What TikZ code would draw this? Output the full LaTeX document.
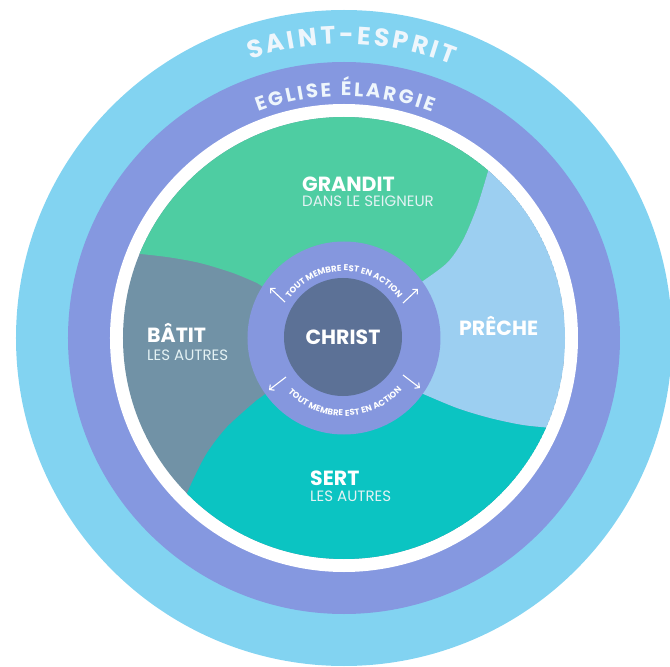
\documentclass[tikz,border=0pt]{standalone}
\usepackage{fontspec}
\setmainfont{Poppins}
\usetikzlibrary{decorations.text,arrows.meta}
\definecolor{skyc}{HTML}{82D3F1}
\definecolor{bandc}{HTML}{8598E0}
\definecolor{greenc}{HTML}{4ECDA2}
\definecolor{lbluec}{HTML}{9CCFF1}
\definecolor{tealc}{HTML}{0BC4C2}
\definecolor{grayc}{HTML}{7192A6}
\definecolor{ringc}{HTML}{8597DE}
\definecolor{christc}{HTML}{5C7196}
\definecolor{arctext}{HTML}{EEF6FC}
\definecolor{subc}{HTML}{E4F2F4}
\tikzset{
  mainlbl/.style={font=\fontsize{20.5}{20.5}\selectfont\bfseries, text=white, anchor=base west, inner sep=0pt},
  sublbl/.style={font=\fontsize{15}{15}\selectfont, text=subc, anchor=base west, inner sep=0pt},
  actarrow/.style={draw=white, line width=1.1pt, -{Straight Barb[length=3.5pt,width=7pt]}},
}
\begin{document}
\begin{tikzpicture}[x=1pt,y=1pt]
\useasboundingbox (-344,-329) rectangle (326,338);
% rings
\fill[skyc] (0,0) circle[radius=328];
\fill[bandc] (0,0) circle[radius=276];
\fill[white] (0,0) circle[radius=234];
% segments
\begin{scope}
\clip (0,0) circle[radius=221];
\fill[grayc] (0,0) circle[radius=221];
\fill[tealc] (0,0) -- plot[smooth] coordinates {(-87,-62) (-117,-89) (-137,-115) (-151,-142) (-161,-165)}
  -- (-190,-210) -- (0,-300) -- (250,-105)
  -- plot[smooth] coordinates {(209,-90) (179,-87) (146,-80) (113,-70) (77,-55)} -- cycle;
\fill[greenc] (0,0) -- plot[smooth] coordinates {(-87,55) (-111,65) (-144,75) (-177,81) (-213,85)}
  -- (-255,92) -- (-150,260) -- (0,300) -- (160,212)
  -- plot[smooth] coordinates {(145,170) (133,131) (119,98) (103,75) (76,55)} -- cycle;
\fill[lbluec] (0,0) -- plot[smooth] coordinates {(76,55) (103,75) (119,98) (133,131) (145,170)}
  -- (160,212) -- (300,0) -- (250,-105)
  -- plot[smooth] coordinates {(209,-90) (179,-87) (146,-80) (113,-70) (77,-55)} -- cycle;
\end{scope}
% center
\node[circle, fill=ringc, inner sep=0pt, minimum size=193pt] (ring) at (0,0) {};
\node[circle, fill=christc, inner sep=0pt, minimum size=118pt, text=white,
      font=\fontsize{20.5}{20.5}\selectfont\bfseries] (christ) at (-1,1) {CHRIST};
% ring texts
\path[decorate, decoration={text along path, text align={fit to path},
  text={|\fontsize{8.5}{8.5}\selectfont\bfseries\color{white}|TOUT MEMBRE EST EN ACTION}}]
  (144:67) arc[start angle=144, end angle=36, radius=67];
\path[decorate, decoration={text along path, text align={fit to path},
  text={|\fontsize{8.5}{8.5}\selectfont\bfseries\color{white}|TOUT MEMBRE EST EN ACTION}}]
  (-136:78) arc[start angle=-136, end angle=-42, radius=78];
% arrows
\coordinate (ulT) at (-59,36); \coordinate (ulH) at (-74,50);
\coordinate (urT) at (59,35);  \coordinate (urH) at (74,49);
\coordinate (llT) at (-58,-39); \coordinate (llH) at (-75,-52);
\coordinate (lrT) at (59,-37); \coordinate (lrH) at (76,-50);
\draw[actarrow] (ulT) -- (ulH);
\draw[actarrow] (urT) -- (urH);
\draw[actarrow] (llT) -- (llH);
\draw[actarrow] (lrT) -- (lrH);
% arc titles
\path[decorate, decoration={text along path, text align={fit to path},
  text={|\fontsize{25}{25}\selectfont\bfseries\color{arctext}|SAINT-ESPRIT}}]
  (108.6:294) arc[start angle=108.6, end angle=68.3, radius=294];
\path[decorate, decoration={text along path, text align={fit to path},
  text={|\fontsize{19.5}{19.5}\selectfont\bfseries\color{arctext}|EGLISE ÉLARGIE}}]
  (110.8:242) arc[start angle=110.8, end angle=68.7, radius=242];
% labels
\node[mainlbl] (grandit) at (-42,146) {GRANDIT};
\node[sublbl] (grandsub) at (-42,131) {DANS LE SEIGNEUR};
\node[mainlbl] (batit) at (-197,-5) {BÂTIT};
\node[sublbl] (batsub) at (-197,-22) {LES AUTRES};
\node[mainlbl] (preche) at (115,3) {PRÊCHE};
\node[mainlbl] (sert) at (-34,-147) {SERT};
\node[sublbl] (sertsub) at (-34,-163) {LES AUTRES};
\end{tikzpicture}
\end{document}
